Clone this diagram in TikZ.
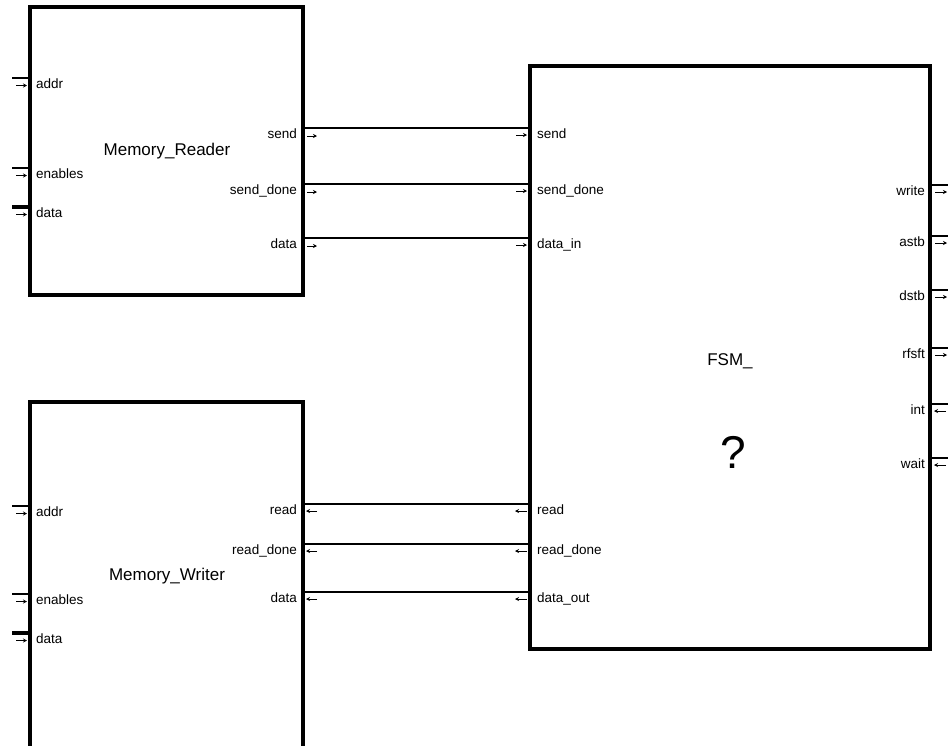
\documentclass[tikz,border=0pt]{standalone}
\usepackage{fontspec}
\setmainfont{Liberation Sans}
\usetikzlibrary{arrows.meta}
\begin{document}
\begin{tikzpicture}[x=1pt,y=-1pt,
  blk/.style={draw, line width=3.6pt, rectangle, inner sep=0pt, outer sep=0pt, anchor=north west},
  pinline/.style={line width=1.5pt},
  busline/.style={line width=3.4pt},
  wire/.style={line width=1.6pt},
  tickmark/.style={line width=0.9pt, -{Stealth[length=4pt,width=4pt]}},
  lab/.style={font=\fontsize{13.5}{15}\selectfont, inner sep=0pt},
  ttl/.style={font=\fontsize{17}{19}\selectfont, inner sep=0pt, anchor=base}]
\useasboundingbox (0,0) rectangle (950,745);

% blocks
\node[blk, minimum width=273pt, minimum height=288pt] (mr) at (30,7) {};
\node[blk, minimum width=273pt, minimum height=360pt] (mw) at (30,402) {};
\node[blk, minimum width=400pt, minimum height=583pt] (fsm) at (530,66) {};

% titles
\node[ttl] (mrt) at (167,155) {Memory\_Reader};
\node[ttl] (mwt) at (167,580) {Memory\_Writer};
\node[ttl] (fsmt) at (730,365) {FSM\_};
\node[font=\fontsize{46}{50}\selectfont, inner sep=0pt, anchor=base] (q) at (733,468) {?};

% left input pins of Memory_Reader and Memory_Writer
\foreach \b/\n/\y/\s in {r/addr/78/pinline, r/enables/168/pinline, r/data/207/busline,
                         w/addr/506/pinline, w/enables/594/pinline, w/data/633/busline}{
  \coordinate (\b in\n o) at (12,\y);
  \coordinate (\b in\n) at (30,\y);
  \draw[\s] (\b in\n o) -- (\b in\n);
  \draw[tickmark] ({16},{\y+7.5}) -- ({27},{\y+7.5});
  \node[lab, anchor=base west] (\b inl\n) at ({36},{\y+10.5}) {\n};
}

% Memory_Reader outputs -> FSM inputs
\foreach \id/\a/\c/\y in {s/send/send/128, sd/send\_done/send\_done/184, d/data/data\_in/238}{
  \coordinate (mro\id) at (303,\y);
  \coordinate (fsi\id) at (530,\y);
  \draw[wire] (mro\id) -- (fsi\id);
  \draw[tickmark] ({307},{\y+8}) -- ({317},{\y+8});
  \draw[tickmark] ({516},{\y+7}) -- ({527},{\y+7});
  \node[lab, anchor=base east] (mrl\id) at ({297},{\y+10.5}) {\a};
  \node[lab, anchor=base west] (fsl\id) at ({537},{\y+10.5}) {\c};
}

% FSM outputs -> Memory_Writer inputs
\foreach \id/\a/\c/\y in {r/read/read/504, rd/read\_done/read\_done/544, d/data/data\_out/592}{
  \coordinate (mwi\id) at (303,\y);
  \coordinate (fso\id) at (530,\y);
  \draw[wire] (fso\id) -- (mwi\id);
  \draw[tickmark] ({317},{\y+7}) -- ({306},{\y+7});
  \draw[tickmark] ({527},{\y+7}) -- ({515},{\y+7});
  \node[lab, anchor=base east] (mwl\id) at ({297},{\y+10.5}) {\a};
  \node[lab, anchor=base west] (fsr\id) at ({537},{\y+10.5}) {\c};
}

% FSM right-side pins
\foreach \n/\y/\dir in {write/185/1, astb/236/1, dstb/290/1, rfsft/348/1, int/404/0, wait/458/0}{
  \coordinate (fe\n) at (930,\y);
  \coordinate (fe\n o) at (948,\y);
  \draw[pinline] (fe\n) -- (fe\n o);
  \ifnum\dir=1
    \draw[tickmark] ({935},{\y+7}) -- ({947},{\y+7});
  \else
    \draw[tickmark] ({946},{\y+7}) -- ({934},{\y+7});
  \fi
  \node[lab, anchor=base east] (fel\n) at ({925},{\y+10.5}) {\n};
}
\end{tikzpicture}
\end{document}
